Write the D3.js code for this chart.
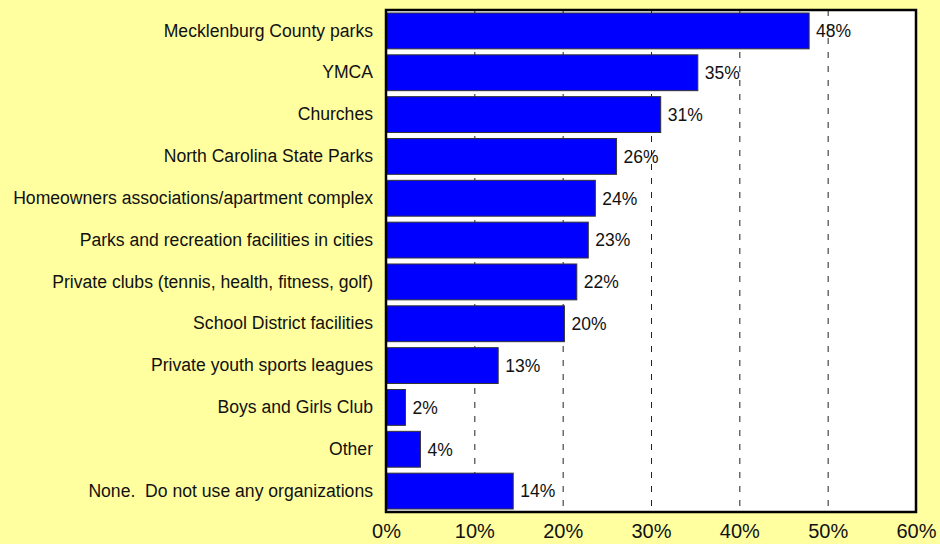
<!DOCTYPE html>
<html><head><meta charset="utf-8">
<script src="https://cdn.jsdelivr.net/npm/d3@7"></script>
<style>
html,body{margin:0;padding:0;background:#FFFFA0;}
svg{display:block;}
text{font-family:"Liberation Sans",Arial,sans-serif;fill:#111;}
</style></head>
<body>
<svg id="chart" width="940" height="544"></svg>
<script>
const categories = [
  "Mecklenburg County parks",
  "YMCA",
  "Churches",
  "North Carolina State Parks",
  "Homeowners associations/apartment complex",
  "Parks and recreation facilities in cities",
  "Private clubs (tennis, health, fitness, golf)",
  "School District facilities",
  "Private youth sports leagues",
  "Boys and Girls Club",
  "Other",
  "None.  Do not use any organizations"
];
const values = [47.9, 35.3, 31.1, 26.1, 23.7, 22.9, 21.6, 20.2, 12.7, 2.2, 3.9, 14.4];
const valueLabels = ["48%","35%","31%","26%","24%","23%","22%","20%","13%","2%","4%","14%"];
const xTicks = [0,10,20,30,40,50,60];
const xTickLabels = ["0%","10%","20%","30%","40%","50%","60%"];

const svg = d3.select("#chart");
const L = 386, R = 916, T = 10, B = 512;

const x = d3.scaleLinear().domain([0,60]).range([L,R]);
const y = d3.scaleBand().domain(categories).range([T,B]).paddingInner(0.143).paddingOuter(0.0715);

// plot background
svg.append("rect").attr("x",L).attr("y",T).attr("width",R-L).attr("height",B-T).attr("fill","#fff");

// dashed gridlines
svg.append("g").selectAll("line").data(xTicks.filter(t=>t>0 && t<60)).join("line")
  .attr("x1",d=>x(d)+0.5).attr("x2",d=>x(d)+0.5).attr("y1",T).attr("y2",B)
  .attr("stroke","#222").attr("stroke-width",1).attr("stroke-dasharray","6,8");

// bars
svg.append("g").selectAll("rect").data(values).join("rect")
  .attr("x",x(0)).attr("y",(d,i)=>y(categories[i]))
  .attr("width",d=>x(d)-x(0)).attr("height",y.bandwidth())
  .attr("fill","#0000FF").attr("stroke","#333").attr("stroke-width",1);

// value labels
svg.append("g").selectAll("text").data(values).join("text")
  .attr("x",d=>x(d)+7).attr("y",(d,i)=>y(categories[i])+y.bandwidth()/2)
  .attr("dy","0.36em").attr("font-size","17.5px")
  .text((d,i)=>valueLabels[i]);

// category labels
const yAxis = d3.axisLeft(y).tickSize(0).tickPadding(13);
const gy = svg.append("g").attr("transform",`translate(${L},0)`).call(yAxis);
gy.select(".domain").remove();
gy.selectAll("text").attr("font-size","17.6px").attr("font-family","Liberation Sans, Arial, sans-serif").attr("fill","#111").style("white-space","pre");

// x axis labels
const xAxis = d3.axisBottom(x).tickValues(xTicks).tickFormat((d,i)=>xTickLabels[i]).tickSize(0).tickPadding(12);
const gx = svg.append("g").attr("transform",`translate(0,${B})`).call(xAxis);
gx.select(".domain").remove();
gx.selectAll("text").attr("font-size","20px").attr("font-family","Liberation Sans, Arial, sans-serif").attr("fill","#111");

// frame
svg.append("rect").attr("x",L).attr("y",T).attr("width",R-L).attr("height",B-T)
  .attr("fill","none").attr("stroke","#000").attr("stroke-width",2.5);
</script>
</body></html>
